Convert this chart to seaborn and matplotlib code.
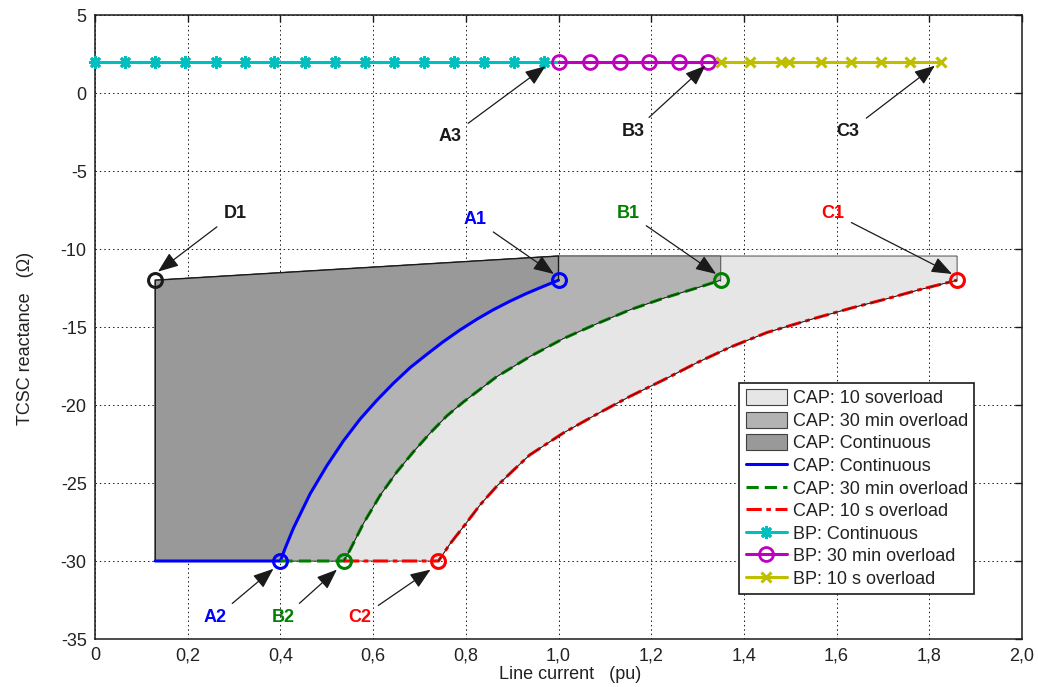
import matplotlib
matplotlib.use('Agg')
from matplotlib import pyplot as plt
from matplotlib.patches import Patch
from matplotlib.lines import Line2D
import seaborn as sns

# CAP boundary curves (line current in pu, reactance in ohm)
cap_cont_x = [0.13, 0.40, 0.41, 0.428, 0.464, 0.50, 0.536, 0.572, 0.608, 0.644, 0.68, 0.716,
              0.751, 0.787, 0.824, 0.859, 0.895, 0.931, 0.967, 1.0]
cap_cont_y = [-30, -30, -29.2, -27.9, -25.7, -23.9, -22.3, -20.9, -19.7, -18.6, -17.6, -16.75,
              -15.95, -15.2, -14.5, -13.9, -13.35, -12.85, -12.4, -12.0]
cap_30_x = [0.40, 0.537, 0.55, 0.579, 0.615, 0.651, 0.687, 0.723, 0.759, 0.795, 0.866, 0.938,
            1.01, 1.082, 1.154, 1.226, 1.298, 1.35]
cap_30_y = [-30, -30, -29.3, -27.6, -25.8, -24.3, -23.0, -21.8, -20.7, -19.8, -18.2, -16.9,
            -15.75, -14.8, -13.9, -13.16, -12.5, -12.0]
cap_10_x = [0.537, 0.741, 0.766, 0.795, 0.831, 0.867, 0.902, 0.938, 1.01, 1.082, 1.154, 1.226,
            1.298, 1.37, 1.45, 1.552, 1.63, 1.707, 1.78, 1.86]
cap_10_y = [-30, -30, -28.9, -27.8, -26.4, -25.2, -24.2, -23.2, -21.8, -20.6, -19.45, -18.4,
            -17.3, -16.3, -15.35, -14.45, -13.8, -13.2, -12.6, -12.0]

# upper limit of the CAP region: D1 and the corner above A1
limit_x = [0.13, 1.0]
limit_y = [-12.0, -10.45]
cap_top = -10.45

# BP (bypass) points
bp_y = 2.0
bp_cont_x = [0, 0.065, 0.13, 0.195, 0.26, 0.323, 0.387, 0.452, 0.517, 0.582, 0.645, 0.71,
             0.774, 0.839, 0.904, 0.968, 1.0]
bp_30_x = [1.0, 1.068, 1.133, 1.196, 1.259, 1.323, 1.351]
bp_10_x = [1.351, 1.414, 1.479, 1.498, 1.566, 1.63, 1.695, 1.758, 1.825]

# ticks
x_ticks = [0, 0.2, 0.4, 0.6, 0.8, 1.0, 1.2, 1.4, 1.6, 1.8, 2.0]
x_tick_labels = ['0', '0,2', '0,4', '0,6', '0,8', '1,0', '1,2', '1,4', '1,6', '1,8', '2,0']
y_ticks = [-35, -30, -25, -20, -15, -10, -5, 0, 5]

BLUE, GREEN, RED = '#0000ff', '#008000', '#ff0000'
CYAN, MAGENTA, OLIVE = '#00bfbf', '#bf00bf', '#bfbf00'

# annotations: label, colour, text position, arrow tip
notes = [
    ('D1', 'k', (0.302, -7.7), (0.136, -11.45)),
    ('A1', BLUE, (0.82, -8.1), (0.99, -11.6)),
    ('B1', GREEN, (1.15, -7.7), (1.34, -11.6)),
    ('C1', RED, (1.592, -7.7), (1.849, -11.6)),
    ('A3', 'k', (0.766, -2.8), (0.972, 1.72)),
    ('B3', 'k', (1.161, -2.5), (1.317, 1.75)),
    ('C3', 'k', (1.625, -2.5), (1.812, 1.75)),
    ('A2', BLUE, (0.259, -33.65), (0.385, -30.5)),
    ('B2', GREEN, (0.406, -33.65), (0.522, -30.55)),
    ('C2', RED, (0.572, -33.65), (0.724, -30.55)),
]

sns.set_theme(style='white')
plt.rcParams['font.family'] = ['Liberation Sans', 'DejaVu Sans']
plt.rcParams['font.size'] = 13
plt.rcParams['axes.unicode_minus'] = False

fig = plt.figure(figsize=(10.38, 6.87), dpi=100)
ax = fig.add_axes([95 / 1038, 48 / 687, 927 / 1038, 624 / 687])
ax.set_axisbelow(True)

# shaded regions, widest first
light_x = [limit_x[0]] + cap_10_x[1:] + [cap_10_x[-1], limit_x[1], limit_x[0]]
light_y = [cap_10_y[0]] + cap_10_y[1:] + [cap_top, cap_top, limit_y[0]]
mid_x = [limit_x[0]] + cap_30_x[1:] + [cap_30_x[-1], limit_x[1], limit_x[0]]
mid_y = [cap_30_y[0]] + cap_30_y[1:] + [cap_top, cap_top, limit_y[0]]
dark_x = [limit_x[0]] + cap_cont_x[1:] + [limit_x[1], limit_x[0]]
dark_y = [cap_cont_y[0]] + cap_cont_y[1:] + [limit_y[1], limit_y[0]]
ax.fill(light_x, light_y, facecolor='0.9', edgecolor='0.3', lw=0.7, zorder=1)
ax.fill(mid_x, mid_y, facecolor='0.7', edgecolor='0.3', lw=0.7, zorder=1.1)
ax.fill(dark_x, dark_y, facecolor='0.6', edgecolor='k', lw=1.0, zorder=1.2)

# CAP curves
sns.lineplot(x=cap_cont_x, y=cap_cont_y, ax=ax, color=BLUE, lw=2.2, sort=False,
             estimator=None, zorder=3)
sns.lineplot(x=cap_30_x, y=cap_30_y, ax=ax, color=GREEN, lw=2.2, sort=False,
             estimator=None, linestyle=(0, (4, 2)), zorder=3)
sns.lineplot(x=cap_10_x, y=cap_10_y, ax=ax, color=RED, lw=2.2, sort=False,
             estimator=None, linestyle=(0, (5, 1.5, 1.5, 1.5)), zorder=3)

# thin black trace of the patch edges along the curves
for cx, cy in [(cap_30_x[1:], cap_30_y[1:]), (cap_10_x[1:], cap_10_y[1:])]:
    ax.plot(cx, cy, color='k', lw=0.5, zorder=3.5)

# BP lines
sns.lineplot(x=bp_cont_x, y=[bp_y] * len(bp_cont_x), ax=ax, color=CYAN, lw=2.2,
             marker=(8, 2, 0), markersize=9, markeredgewidth=2, markeredgecolor=CYAN,
             markevery=list(range(len(bp_cont_x) - 1)), sort=False, estimator=None,
             zorder=3, clip_on=False)
sns.lineplot(x=bp_30_x, y=[bp_y] * len(bp_30_x), ax=ax, color=MAGENTA, lw=2.2,
             marker='o', markersize=10, markerfacecolor='none', markeredgewidth=2,
             markeredgecolor=MAGENTA, markevery=list(range(len(bp_30_x) - 1)),
             sort=False, estimator=None, zorder=3)
sns.lineplot(x=bp_10_x, y=[bp_y] * len(bp_10_x), ax=ax, color=OLIVE, lw=2.2,
             marker='x', markersize=7, markeredgewidth=2.2, markeredgecolor=OLIVE,
             sort=False, estimator=None, zorder=3)

# corner points
ax.plot(limit_x[0], limit_y[0], 'o', ms=10, mfc='none', mec='k', mew=2.2, zorder=4)
for cx, cy, c in [(cap_cont_x, cap_cont_y, BLUE), (cap_30_x, cap_30_y, GREEN),
                  (cap_10_x, cap_10_y, RED)]:
    ax.plot([cx[1], cx[-1]], [cy[1], cy[-1]], 'o', ls='none', ms=10, mfc='none', mec=c,
            mew=2.2, zorder=4)

for label, c, txt, tip in notes:
    ax.annotate(label, xy=tip, xytext=txt, color=c, fontweight='bold', fontsize=13,
                ha='center', va='center', zorder=5,
                arrowprops=dict(arrowstyle='-|>,head_length=0.9,head_width=0.35',
                                color='k', lw=0.9, shrinkA=3, shrinkB=0, mutation_scale=14))

ax.set_xlim(0, 2.0)
ax.set_ylim(-35, 5)
ax.set_xticks(x_ticks)
ax.set_xticklabels(x_tick_labels)
ax.set_yticks(y_ticks)
ax.tick_params(direction='in', length=5, width=1, top=True, right=True, labelsize=13,
               colors='k', pad=6)
for t in ax.get_xticklabels() + ax.get_yticklabels():
    t.set_color('#222222')
ax.grid(True, color='k', ls=(0, (1.5, 3)), lw=0.7)
for s in ax.spines.values():
    s.set_color('k')
    s.set_linewidth(1.1)

ax.set_xlabel('Line current   (pu)', fontsize=13, color='#222222')
ax.xaxis.set_label_coords(0.513, -0.043)
ax.set_ylabel('TCSC reactance   (\u03a9)', fontsize=13, color='#222222')
ax.yaxis.set_label_coords(-0.066, 0.482)

handles = [
    Patch(facecolor='0.9', edgecolor='0.25', lw=0.8),
    Patch(facecolor='0.7', edgecolor='0.25', lw=0.8),
    Patch(facecolor='0.6', edgecolor='0.25', lw=0.8),
    Line2D([], [], color=BLUE, lw=2.2),
    Line2D([], [], color=GREEN, lw=2.2, ls=(0, (4, 2))),
    Line2D([], [], color=RED, lw=2.2, ls=(0, (5, 1.5, 1.5, 1.5))),
    Line2D([], [], color=CYAN, lw=2.2, marker=(8, 2, 0), ms=9, mew=2),
    Line2D([], [], color=MAGENTA, lw=2.2, marker='o', ms=10, mfc='none', mew=2),
    Line2D([], [], color=OLIVE, lw=2.2, marker='x', ms=7, mew=2.2),
]
labels = ['CAP: 10 soverload', 'CAP: 30 min overload', 'CAP: Continuous',
          'CAP: Continuous', 'CAP: 30 min overload', 'CAP: 10 s overload',
          'BP: Continuous', 'BP: 30 min overload', 'BP: 10 s overload']
leg = ax.legend(handles, labels, loc='upper left', bbox_to_anchor=(0.695, 0.41),
                borderaxespad=0, fontsize=13, fancybox=False, framealpha=1,
                edgecolor='k', handlelength=2.3, handleheight=0.95, handletextpad=0.3,
                labelspacing=0.25, borderpad=0.35)
leg.get_frame().set_linewidth(1.2)
for t in leg.get_texts():
    t.set_color('#222222')

fig.savefig('out.png', dpi=100)
